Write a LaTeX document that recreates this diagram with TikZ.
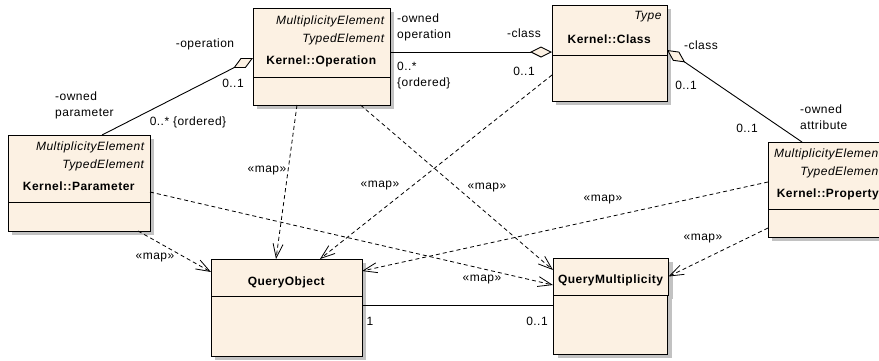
\documentclass[tikz,border=0pt]{standalone}
\usepackage{fontspec}
\setmainfont{Liberation Sans}[LetterSpace=4]
\usetikzlibrary{positioning,arrows.meta,shadows}
\definecolor{UmlFill}{HTML}{FCF1E3}
\definecolor{UmlShadow}{HTML}{C2C2C2}
\newcommand{\umlStereo}[1]{\hspace*{0pt plus 1filll}\textit{#1}}
\newcommand{\umlName}[1]{\textbf{#1}\rule[-5pt]{0pt}{0pt}}

\begin{document}
\begin{tikzpicture}[x=1pt, y=-1pt, font=\fontsize{12}{18}\selectfont,
  umlbox/.style={draw=black, line width=0.9pt, fill=UmlFill, outer sep=0pt,
    drop shadow={shadow xshift=4pt, shadow yshift=-4pt, fill=UmlShadow, opacity=1}},
  umlhead/.style={umlbox, anchor=north west, inner xsep=5pt, inner ysep=0pt, align=center},
  umlbody/.style={umlbox, inner sep=0pt},
  lbl/.style={inner sep=0pt, font=\fontsize{12}{16}\selectfont},
  aggr/.style={line width=0.9pt, -{Diamond[length=22pt,width=11pt,fill=UmlFill]}},
  assoc/.style={line width=0.9pt},
  mapdep/.style={line width=0.8pt, dash pattern=on 4pt off 3pt,
    -{Straight Barb[length=14pt,width=10pt]}}]

  \useasboundingbox (0,0) rectangle (879,360);
  \clip (0,0) rectangle (879,360);

  % classes
  \node[umlhead, text width=127pt, minimum height=69pt] (operation) at (253,8)
    {\umlStereo{MultiplicityElement}\\\umlStereo{TypedElement}\\[4.5pt]\umlName{Kernel::Operation}};
  \node[umlbody, below=0pt of operation, minimum width=137pt, minimum height=28pt] (operationBody) {};

  \node[umlhead, text width=105pt, minimum height=50pt] (kernelClass) at (552,5)
    {\umlStereo{Type}\\[6pt]\umlName{Kernel::Class}};
  \node[umlbody, below=0pt of kernelClass, minimum width=115pt, minimum height=46pt] (kernelClassBody) {};

  \node[umlhead, text width=132pt, minimum height=67pt] (parameter) at (8,135)
    {\umlStereo{MultiplicityElement}\\\umlStereo{TypedElement}\\[4.5pt]\umlName{Kernel::Parameter}};
  \node[umlbody, below=0pt of parameter, minimum width=142pt, minimum height=29pt] (parameterBody) {};

  \node[umlhead, text width=110pt, minimum height=67pt] (property) at (768,142)
    {\umlStereo{MultiplicityElement}\\\umlStereo{TypedElement}\\[4.5pt]\umlName{Kernel::Property}};
  \node[umlbody, below=0pt of property, minimum width=120pt, minimum height=28pt] (propertyBody) {};

  \node[umlhead, minimum width=151pt, minimum height=37pt, text height=17.5pt, text depth=2.5pt]
    (queryObject) at (211,259) {\textbf{QueryObject}};
  \node[umlbody, below=0pt of queryObject, minimum width=151pt, minimum height=60pt] (queryObjectBody) {};

  \node[umlhead, minimum width=114pt, minimum height=37pt, text height=15.5pt, text depth=2.5pt]
    (queryMult) at (553,258) {\textbf{QueryMultiplicity}};
  \node[umlbody, below=0pt of queryMult, minimum width=114pt, minimum height=59pt] (queryMultBody) {};

  % associations
  \draw[aggr] ([xshift=23pt]parameter.north) -- ([yshift=-15.5pt]operation.west);
  \draw[aggr] ([yshift=-9.5pt]operation.east) -- ([yshift=-22pt]kernelClass.west);
  \draw[aggr] ([xshift=-26pt]property.north) -- ([yshift=-20pt]kernelClass.east);
  \draw[assoc] ([yshift=21pt]queryObjectBody.east) -- ([yshift=21pt]queryObjectBody.east -| queryMultBody.west);

  % map dependencies
  \draw[mapdep] ([xshift=-24.5pt]operationBody.south) -- ([xshift=-10.5pt]queryObject.north);
  \draw[mapdep] ([yshift=3pt]kernelClassBody.west) -- ([xshift=33.5pt]queryObject.north);
  \draw[mapdep] ([xshift=39pt]operationBody.south) -- ([yshift=6.5pt]queryMult.west);
  \draw[mapdep] ([yshift=-23.5pt]parameter.east) -- ([yshift=-8.5pt]queryMult.west);
  \draw[mapdep] ([xshift=59pt]parameterBody.south) -- ([yshift=5.5pt]queryObject.west);
  \draw[mapdep] ([yshift=-6.5pt]property.west) -- ([yshift=6.5pt]queryObject.east);
  \draw[mapdep] ([yshift=-5pt]propertyBody.west) -- (queryMult.east);

  % role and multiplicity labels
  \node[lbl] (roleOperation) at (205,44) {-operation};
  \node[lbl] (multOpPar) at (233,83) {0..1};
  \node[lbl, anchor=west, align=left] (roleParam) at (55,105) {-owned\\parameter};
  \node[lbl] (multParOp) at (188,122) {0..* \{ordered\}};
  \node[lbl, anchor=west, align=left] (roleOwnedOp) at (397,27) {-owned\\operation};
  \node[lbl, anchor=west, align=left] (multOwnedOp) at (397,76) {0..*\\\{ordered\}};
  \node[lbl] (roleClassOp) at (524,33) {-class};
  \node[lbl] (multClassOp) at (524,71) {0..1};
  \node[lbl] (roleClassProp) at (701,45) {-class};
  \node[lbl] (multClassProp) at (686,85) {0..1};
  \node[lbl] (multPropClass) at (747,128) {0..1};
  \node[lbl, anchor=west, align=left] (roleAttr) at (800,117) {-owned\\attribute};
  \node[lbl] (multQO) at (370,321) {1};
  \node[lbl] (multQM) at (537,321) {0..1};

  % map labels
  \node[lbl] (mapOpQO) at (267,171) {«map»};
  \node[lbl] (mapClassQO) at (380,186) {«map»};
  \node[lbl] (mapOpQM) at (487,188) {«map»};
  \node[lbl] (mapParQM) at (482,280) {«map»};
  \node[lbl] (mapParQO) at (155,258) {«map»};
  \node[lbl] (mapPropQO) at (603,200) {«map»};
  \node[lbl] (mapPropQM) at (703,239) {«map»};
\end{tikzpicture}
\end{document}
